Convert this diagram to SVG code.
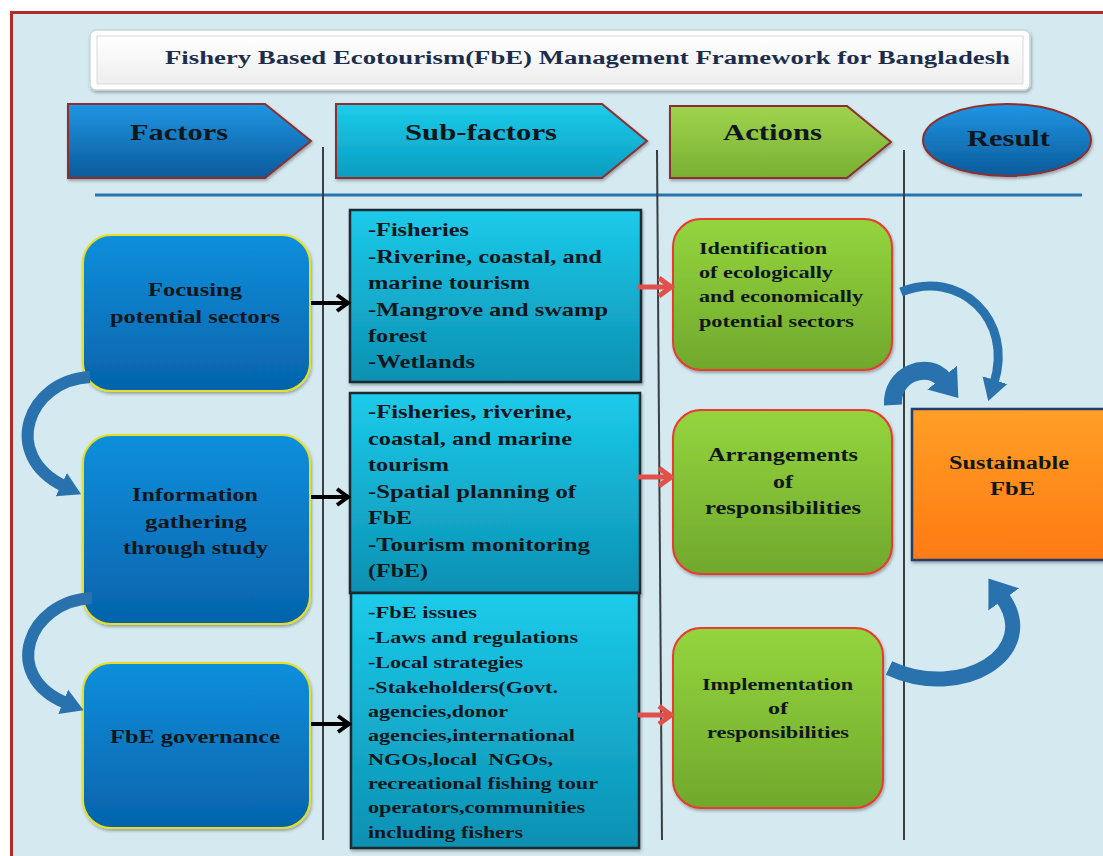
<svg xmlns="http://www.w3.org/2000/svg" width="1103" height="856" viewBox="0 0 1103 856">
<defs>
<style>
.t{font-family:"Liberation Serif","Times New Roman",serif;font-weight:bold;fill:#10171c}
.h{font-size:24px}
.f{font-size:19px}
.s{font-size:19px}
.s3{font-size:16px}
.a{font-size:16px}
.a2{font-size:18px}
.vl{stroke:#3a3f44;stroke-width:2;fill:none}
.bk{stroke:#000;stroke-width:4;fill:none;marker-end:url(#mk)}
.rd{stroke:#e0514b;stroke-width:5;fill:none;marker-end:url(#mr)}
.cv{stroke:#2a72ae;fill:none}
</style>
<linearGradient id="gBlue" x1="0" y1="0" x2="0" y2="1"><stop offset="0" stop-color="#108fdc"/><stop offset="1" stop-color="#0563ab"/></linearGradient>
<linearGradient id="gCyan" x1="0" y1="0" x2="0" y2="1"><stop offset="0" stop-color="#1ccbea"/><stop offset="1" stop-color="#0c90b2"/></linearGradient>
<linearGradient id="gGreen" x1="0" y1="0" x2="0" y2="1"><stop offset="0" stop-color="#94d53e"/><stop offset="1" stop-color="#70a82c"/></linearGradient>
<linearGradient id="gOrange" x1="0" y1="0" x2="0" y2="1"><stop offset="0" stop-color="#ff9f26"/><stop offset="1" stop-color="#ff7a12"/></linearGradient>
<linearGradient id="gHBlue" x1="0" y1="0" x2="0" y2="1"><stop offset="0" stop-color="#2096e4"/><stop offset="1" stop-color="#0a5a9a"/></linearGradient>
<linearGradient id="gHCyan" x1="0" y1="0" x2="0" y2="1"><stop offset="0" stop-color="#1ccdea"/><stop offset="1" stop-color="#0a9cc0"/></linearGradient>
<linearGradient id="gHGreen" x1="0" y1="0" x2="0" y2="1"><stop offset="0" stop-color="#a0d44e"/><stop offset="1" stop-color="#78b032"/></linearGradient>
<linearGradient id="gTitle" x1="0" y1="0" x2="0" y2="1"><stop offset="0" stop-color="#ffffff"/><stop offset="1" stop-color="#eeeeee"/></linearGradient>
<filter id="sh" x="-10%" y="-10%" width="120%" height="120%"><feDropShadow dx="1" dy="2" stdDeviation="1.5" flood-color="#000" flood-opacity="0.3"/></filter>
<marker id="mk" markerUnits="userSpaceOnUse" markerWidth="16" markerHeight="20" refX="13" refY="10" orient="auto"><path d="M2,2 L13,10 L2,18" fill="none" stroke="#000" stroke-width="4"/></marker>
<marker id="mr" markerUnits="userSpaceOnUse" markerWidth="18" markerHeight="24" refX="14" refY="12" orient="auto"><path d="M2,3 L14,12 L2,21" fill="none" stroke="#e0514b" stroke-width="5"/></marker>
<marker id="mb" markerUnits="userSpaceOnUse" markerWidth="24" markerHeight="28" refX="3" refY="14" orient="auto"><path d="M0,1 L22,14 L0,27 Z" fill="#2a72ae"/></marker>
<marker id="mB" markerUnits="userSpaceOnUse" markerWidth="30" markerHeight="40" refX="3" refY="20" orient="auto"><path d="M0,1 L26,20 L0,39 Z" fill="#2a72ae"/></marker>
</defs>

<rect x="0" y="0" width="1103" height="856" fill="#ffffff"/>
<rect x="11.5" y="12.5" width="1100" height="860" fill="#d4eaf0" stroke="#b32a2a" stroke-width="3"/>

<g id="title">
<rect x="90" y="30" width="940" height="60" rx="6" fill="#ffffff" stroke="#c9d6de" stroke-width="1.5" filter="url(#sh)"/>
<rect x="97" y="36" width="926" height="48" fill="url(#gTitle)" stroke="#dadada" stroke-width="1"/>
<text class="t" x="165" y="64" font-size="18" textLength="845" lengthAdjust="spacingAndGlyphs" style="fill:#1c2d4c">Fishery Based Ecotourism(FbE) Management Framework for Bangladesh</text>
</g>

<g id="headers">
<g id="h-factors">
<polygon points="68,104 265,104 311,141 265,178 68,178" fill="url(#gHBlue)" stroke="#8e2e2e" stroke-width="2" filter="url(#sh)"/>
<text class="t h" x="130" y="140" textLength="98" lengthAdjust="spacingAndGlyphs">Factors</text>
</g>
<g id="h-subfactors">
<polygon points="336,104 602,104 647,141 602,178 336,178" fill="url(#gHCyan)" stroke="#8e2e2e" stroke-width="2" filter="url(#sh)"/>
<text class="t h" x="405" y="140" textLength="152" lengthAdjust="spacingAndGlyphs">Sub-factors</text>
</g>
<g id="h-actions">
<polygon points="670,106 847,106 891,142 847,178 670,178" fill="url(#gHGreen)" stroke="#8e2e2e" stroke-width="2" filter="url(#sh)"/>
<text class="t h" x="723" y="140" textLength="99" lengthAdjust="spacingAndGlyphs">Actions</text>
</g>
<g id="h-result">
<ellipse cx="1007" cy="140" rx="84" ry="36" fill="url(#gHBlue)" stroke="#8e2e2e" stroke-width="2" filter="url(#sh)"/>
<text class="t h" x="967" y="146" textLength="83" lengthAdjust="spacingAndGlyphs">Result</text>
</g>
</g>

<g id="dividers">
<line x1="95" y1="195" x2="1082" y2="195" stroke="#2a72ae" stroke-width="3"/>
<line class="vl" x1="323" y1="147" x2="323" y2="840"/>
<line class="vl" x1="657" y1="150" x2="662" y2="840"/>
<line class="vl" x1="904" y1="150" x2="904" y2="840"/>
</g>

<g id="factor1">
<rect x="83" y="235" width="227" height="156" rx="28" fill="url(#gBlue)" stroke="#e6e020" stroke-width="2" filter="url(#sh)"/>
<text class="t f" x="148" y="296" textLength="94" lengthAdjust="spacingAndGlyphs">Focusing</text>
<text class="t f" x="110" y="323" textLength="170" lengthAdjust="spacingAndGlyphs">potential sectors</text>
</g>
<g id="factor2">
<rect x="83" y="435" width="227" height="189" rx="28" fill="url(#gBlue)" stroke="#e6e020" stroke-width="2" filter="url(#sh)"/>
<text class="t f" x="132" y="501" textLength="126" lengthAdjust="spacingAndGlyphs">Information</text>
<text class="t f" x="145" y="528" textLength="102" lengthAdjust="spacingAndGlyphs">gathering</text>
<text class="t f" x="123" y="554" textLength="145" lengthAdjust="spacingAndGlyphs">through study</text>
</g>
<g id="factor3">
<rect x="83" y="663" width="227" height="165" rx="28" fill="url(#gBlue)" stroke="#e6e020" stroke-width="2" filter="url(#sh)"/>
<text class="t f" x="110" y="743" textLength="170" lengthAdjust="spacingAndGlyphs">FbE governance</text>
</g>

<g id="sub1">
<rect x="350" y="210" width="291" height="172" fill="url(#gCyan)" stroke="#1b2a30" stroke-width="2.5" filter="url(#sh)"/>
<text class="t s" x="368" y="236" textLength="101" lengthAdjust="spacingAndGlyphs">-Fisheries</text>
<text class="t s" x="368" y="263" textLength="234" lengthAdjust="spacingAndGlyphs">-Riverine, coastal, and</text>
<text class="t s" x="368" y="289" textLength="162" lengthAdjust="spacingAndGlyphs">marine tourism</text>
<text class="t s" x="368" y="316" textLength="240" lengthAdjust="spacingAndGlyphs">-Mangrove and swamp</text>
<text class="t s" x="368" y="342" textLength="59" lengthAdjust="spacingAndGlyphs">forest</text>
<text class="t s" x="368" y="368" textLength="107" lengthAdjust="spacingAndGlyphs">-Wetlands</text>
</g>
<g id="sub2">
<rect x="350" y="393" width="290" height="200" fill="url(#gCyan)" stroke="#1b2a30" stroke-width="2.5" filter="url(#sh)"/>
<text class="t s" x="368" y="418" textLength="204" lengthAdjust="spacingAndGlyphs">-Fisheries, riverine,</text>
<text class="t s" x="368" y="445" textLength="204" lengthAdjust="spacingAndGlyphs">coastal, and marine</text>
<text class="t s" x="368" y="471" textLength="81" lengthAdjust="spacingAndGlyphs">tourism</text>
<text class="t s" x="368" y="498" textLength="208" lengthAdjust="spacingAndGlyphs">-Spatial planning of</text>
<text class="t s" x="368" y="524" textLength="44" lengthAdjust="spacingAndGlyphs">FbE</text>
<text class="t s" x="368" y="551" textLength="222" lengthAdjust="spacingAndGlyphs">-Tourism monitoring</text>
<text class="t s" x="368" y="577" textLength="60" lengthAdjust="spacingAndGlyphs">(FbE)</text>
</g>
<g id="sub3">
<rect x="351" y="593" width="288" height="255" fill="url(#gCyan)" stroke="#1b2a30" stroke-width="2.5" filter="url(#sh)"/>
<text class="t s3" x="368" y="618" textLength="109" lengthAdjust="spacingAndGlyphs">-FbE issues</text>
<text class="t s3" x="368" y="643" textLength="210" lengthAdjust="spacingAndGlyphs">-Laws and regulations</text>
<text class="t s3" x="368" y="668" textLength="155" lengthAdjust="spacingAndGlyphs">-Local strategies</text>
<text class="t s3" x="368" y="693" textLength="190" lengthAdjust="spacingAndGlyphs">-Stakeholders(Govt.</text>
<text class="t s3" x="368" y="717" textLength="140" lengthAdjust="spacingAndGlyphs">agencies,donor</text>
<text class="t s3" x="368" y="741" textLength="207" lengthAdjust="spacingAndGlyphs">agencies,international</text>
<text class="t s3" x="368" y="765" textLength="185" lengthAdjust="spacingAndGlyphs" style="white-space:pre">NGOs,local  NGOs,</text>
<text class="t s3" x="368" y="789" textLength="230" lengthAdjust="spacingAndGlyphs">recreational fishing tour</text>
<text class="t s3" x="368" y="813" textLength="217" lengthAdjust="spacingAndGlyphs">operators,communities</text>
<text class="t s3" x="368" y="838" textLength="155" lengthAdjust="spacingAndGlyphs">including fishers</text>
</g>

<g id="action1">
<rect x="673" y="219" width="219" height="151" rx="28" fill="url(#gGreen)" stroke="#e83a30" stroke-width="2" filter="url(#sh)"/>
<text class="t a" x="699" y="254" textLength="128" lengthAdjust="spacingAndGlyphs">Identification</text>
<text class="t a" x="699" y="278" textLength="134" lengthAdjust="spacingAndGlyphs">of ecologically</text>
<text class="t a" x="699" y="302" textLength="164" lengthAdjust="spacingAndGlyphs">and economically</text>
<text class="t a" x="699" y="327" textLength="155" lengthAdjust="spacingAndGlyphs">potential sectors</text>
</g>
<g id="action2">
<rect x="673" y="410" width="219" height="164" rx="28" fill="url(#gGreen)" stroke="#e83a30" stroke-width="2" filter="url(#sh)"/>
<text class="t a2" x="708" y="461" textLength="150" lengthAdjust="spacingAndGlyphs">Arrangements</text>
<text class="t a2" x="773" y="488" textLength="20" lengthAdjust="spacingAndGlyphs">of</text>
<text class="t a2" x="705" y="514" textLength="156" lengthAdjust="spacingAndGlyphs">responsibilities</text>
</g>
<g id="action3">
<rect x="673" y="628" width="210" height="180" rx="28" fill="url(#gGreen)" stroke="#e83a30" stroke-width="2" filter="url(#sh)"/>
<text class="t a" x="702" y="690" textLength="151" lengthAdjust="spacingAndGlyphs">Implementation</text>
<text class="t a" x="768" y="714" textLength="20" lengthAdjust="spacingAndGlyphs">of</text>
<text class="t a" x="707" y="738" textLength="142" lengthAdjust="spacingAndGlyphs">responsibilities</text>
</g>

<g id="result">
<rect x="912" y="409" width="200" height="151" fill="url(#gOrange)" stroke="#23406a" stroke-width="2.5" filter="url(#sh)"/>
<text class="t a2" x="949" y="469" textLength="120" lengthAdjust="spacingAndGlyphs">Sustainable</text>
<text class="t a2" x="990" y="495" textLength="45" lengthAdjust="spacingAndGlyphs">FbE</text>
</g>

<g id="connectors">
<line class="bk" x1="311" y1="303" x2="348" y2="303"/>
<line class="bk" x1="311" y1="497" x2="348" y2="497"/>
<line class="bk" x1="311" y1="724" x2="349" y2="724"/>
<line class="rd" x1="638" y1="287" x2="671" y2="287"/>
<line class="rd" x1="638" y1="477" x2="671" y2="477"/>
<line class="rd" x1="638" y1="715" x2="671" y2="715"/>
<path class="cv" d="M 90 377 C 28 380, 0 455, 64 486" stroke-width="12" marker-end="url(#mb)"/>
<path class="cv" d="M 92 598 C 28 601, 0 676, 66 703" stroke-width="12" marker-end="url(#mb)"/>
<path class="cv" d="M 901 292 C 960 268, 1014 320, 994 383" stroke-width="9" marker-end="url(#mb)"/>
<path class="cv" d="M 893 405 C 891 374, 928 360, 944 380" stroke-width="18" marker-end="url(#mB)"/>
<path class="cv" d="M 889 668 C 962 702, 1042 652, 1002 597" stroke-width="15" marker-end="url(#mB)"/>
</g>
</svg>
